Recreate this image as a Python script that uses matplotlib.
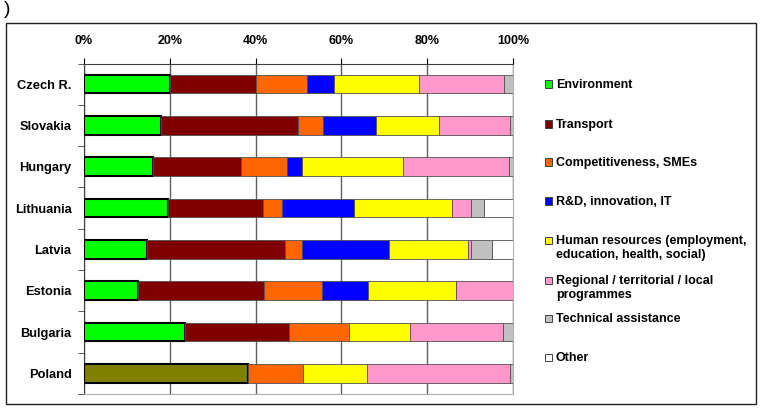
import matplotlib.pyplot as plt
from matplotlib.patches import Rectangle
import numpy as np

plt.rcParams['font.family'] = ['Liberation Sans', 'DejaVu Sans']

countries = ['Czech R.', 'Slovakia', 'Hungary', 'Lithuania', 'Latvia', 'Estonia', 'Bulgaria', 'Poland']

# shares in %
env_transport = [0, 0, 0, 0, 0, 0, 0, 38.2]   # Poland: env + transport together
environment = [20.0, 17.9, 16.2, 19.6, 14.7, 12.7, 23.5, 0]
transport = [20.0, 32.0, 20.3, 22.1, 32.2, 29.2, 24.2, 0]
competitiveness = [11.9, 5.9, 10.9, 4.4, 4.0, 13.5, 14.0, 12.8]
rnd = [6.3, 12.3, 3.3, 16.8, 20.3, 10.7, 0, 0]
human_res = [19.9, 14.7, 23.7, 22.9, 18.3, 20.7, 14.3, 14.9]
regional = [19.8, 16.6, 24.6, 4.3, 0.6, 13.2, 21.6, 33.5]
tech_assist = [2.1, 0.6, 1.0, 3.1, 4.9, 0, 2.4, 0.6]
other = [0, 0, 0, 6.8, 5.0, 0, 0, 0]

series = [
    (None, env_transport, '#808000'),
    ('Environment', environment, '#00FF00'),
    ('Transport', transport, '#800000'),
    ('Competitiveness, SMEs', competitiveness, '#FF6600'),
    ('R&D, innovation, IT', rnd, '#0000FF'),
    ('Human resources (employment,\neducation, health, social)', human_res, '#FFFF00'),
    ('Regional / territorial / local\nprogrammes', regional, '#FF99CC'),
    ('Technical assistance', tech_assist, '#C0C0C0'),
    ('Other', other, '#FFFFFF'),
]

fig = plt.figure(figsize=(7.66, 4.08), dpi=100)
ax = fig.add_axes([84 / 766, 1 - 394 / 408, (513 - 84) / 766, (394 - 63.5) / 408])

y = np.arange(len(countries))
left = np.zeros(len(countries))
for name, vals, col in series:
    vals = np.array(vals, dtype=float)
    m = vals > 0
    if name == 'Environment' or name is None:
        ec, lw = 'black', 1.5
    else:
        ec, lw = '#505050', 0.6
    ax.barh(y[m], vals[m], left=left[m], height=0.45, color=col, edgecolor=ec, linewidth=lw, zorder=3)
    left += vals

ax.set_xlim(0, 100)
ax.set_ylim(len(countries) - 0.5, -0.5)
ax.set_xticks([0, 20, 40, 60, 80, 100])
ax.set_xticklabels(['0%', '20%', '40%', '60%', '80%', '100%'], fontsize=9, fontweight='bold')
ax.xaxis.tick_top()
ax.tick_params(axis='x', length=4, pad=8, color='black')
ax.set_yticks(y)
ax.set_yticklabels(countries, fontsize=9.3, fontweight='bold')
ax.set_yticks(np.arange(len(countries) + 1) - 0.5, minor=True)
ax.tick_params(axis='y', which='major', length=0, pad=9)
ax.tick_params(axis='y', which='minor', length=4, color='#404040')
ax.grid(axis='x', color='#606060', linewidth=1, zorder=0)
ax.set_axisbelow(True)
for s in ['right', 'bottom']:
    ax.spines[s].set_color('#B0B0B0')
    ax.spines[s].set_linewidth(0.8)
ax.spines['top'].set_color('#404040')
ax.spines['left'].set_color('#404040')

# legend on the right (y of first text line, in pixels)
leg_y = [84, 124, 162, 201, 240, 280, 318, 357]
for (name, vals, col), yy in zip(series[1:], leg_y):
    fig.add_artist(Rectangle((545 / 766, 1 - (yy + 3.5) / 408), 7 / 766, 7 / 408,
                             transform=fig.transFigure, facecolor=col, edgecolor='#404040', linewidth=0.7))
    fig.text(556 / 766, 1 - (yy - 5) / 408, name, fontsize=9, fontweight='bold', va='top', ha='left',
             linespacing=1.25)

# outer frame
fig.add_artist(Rectangle((6 / 766, 1 - 404 / 408), 750 / 766, (404 - 23) / 408, transform=fig.transFigure,
                         fill=False, edgecolor='#202020', linewidth=1))
fig.text(4 / 766, 1 - 9 / 408, ')', fontsize=14, va='center', ha='left')

fig.savefig('out.png', dpi=100)
